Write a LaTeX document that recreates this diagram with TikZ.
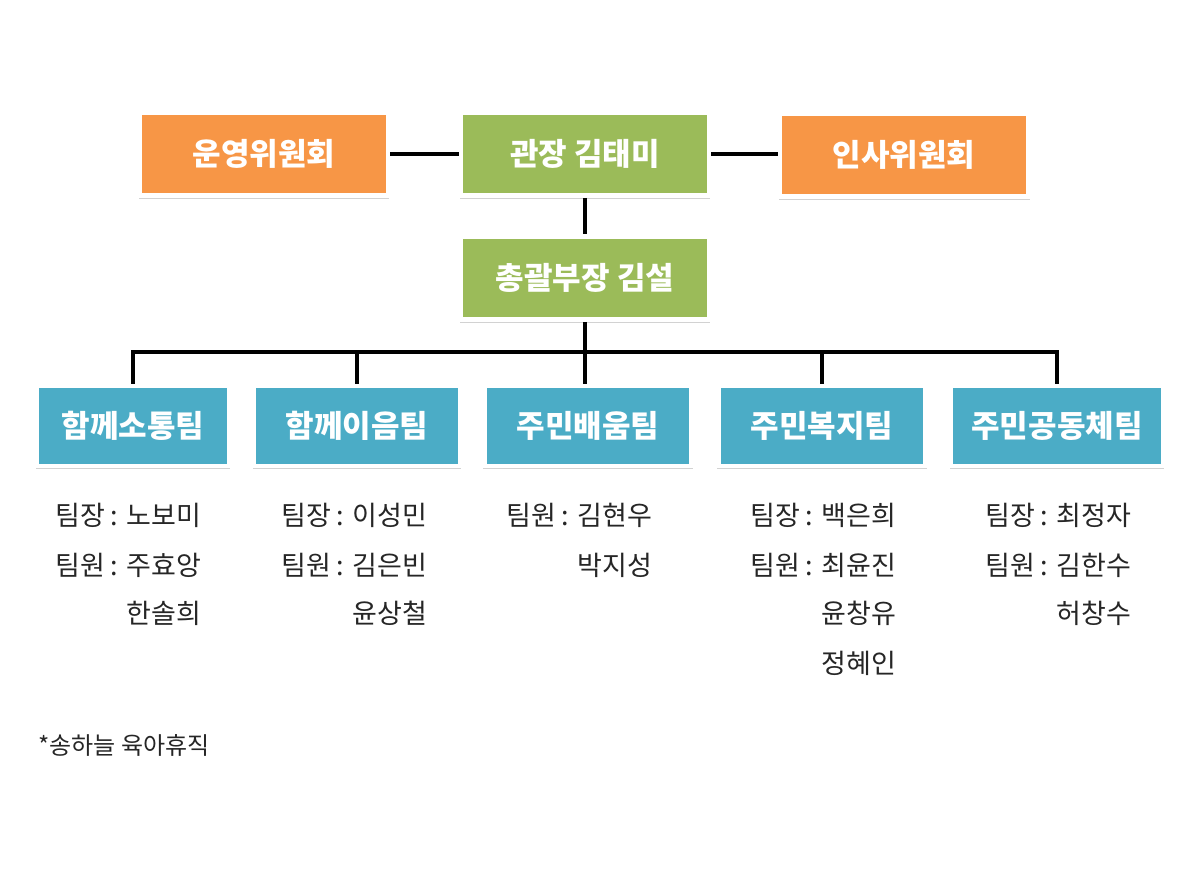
\documentclass[tikz,border=0pt]{standalone}
\usepackage{fontspec}
\newfontfamily\kr{Noto Sans CJK KR}
\usetikzlibrary{shadows}
\definecolor{orng}{HTML}{F79646}
\definecolor{grn}{HTML}{9BBB59}
\definecolor{blu}{HTML}{4BACC6}
\begin{document}
\begin{tikzpicture}[x=1pt,y=-1pt,
  box/.style={draw=white, line width=4.5pt, text=white, inner sep=0pt,
    font=\kr\bfseries\fontsize{31}{34}\selectfont,
    drop shadow={shadow xshift=0pt, shadow yshift=-2.5pt, shadow scale=1.012, opacity=0.35}},
  topbox/.style={box, minimum height=83pt, minimum width=248pt},
  teambox/.style={box, minimum height=80pt},
  conn/.style={line width=4.5pt, black},
  info/.style={anchor=west, inner sep=0pt, font=\kr\fontsize{27}{30}\selectfont, text=black!85}]
\useasboundingbox (0,0) rectangle (1200,868);
\fill[white] (0,0) rectangle (1200,868);

% top row
\node[topbox, fill=orng] (op) at (264,154) {운영위원회};
\node[topbox, fill=grn] (head) at (585,154) {관장 김태미};
\node[topbox, fill=orng] (hr) at (904,155) {인사위원회};
\node[topbox, fill=grn] (gm) at (585,278) {총괄부장 김설};

% teams
\node[teambox, fill=blu, minimum width=192pt] (t1) at (133,426) {함께소통팀};
\node[teambox, fill=blu, minimum width=206pt] (t2) at (357,426) {함께이음팀};
\node[teambox, fill=blu, minimum width=207pt] (t3) at (588,426) {주민배움팀};
\node[teambox, fill=blu, minimum width=207pt] (t4) at (822,426) {주민복지팀};
\node[teambox, fill=blu, minimum width=212pt] (t5) at (1057,426) {주민공동체팀};

% connectors
\coordinate (bus) at (585,352);
\draw[conn] (op.east) -- (head.west);
\draw[conn] (head.east) -- (hr.west |- head.east);
\draw[conn] (head.south) -- (gm.north);
\draw[conn] (gm.south) -- (bus);
\draw[conn] (t1.north) |- (bus) -| (t5.north);
\draw[conn] (t2.north) -- (t2.north |- bus);
\draw[conn] (t3.north -| bus) -- (bus);
\draw[conn] (t4.north) -- (t4.north |- bus);

% team members
\node[info] (a1) at (55,515) {팀장 : 노보미};
\node[info] (a2) at (55,565) {팀원 : 주효앙};
\node[info] (a3) at (55,613) {\phantom{팀원 : }한솔희};

\node[info] (b1) at (281,515) {팀장 : 이성민};
\node[info] (b2) at (281,565) {팀원 : 김은빈};
\node[info] (b3) at (281,613) {\phantom{팀원 : }윤상철};

\node[info] (c1) at (506,515) {팀원 : 김현우};
\node[info] (c2) at (506,565) {\phantom{팀원 : }박지성};

\node[info] (d1) at (750,515) {팀장 : 백은희};
\node[info] (d2) at (750,565) {팀원 : 최윤진};
\node[info] (d3) at (750,613) {\phantom{팀원 : }윤창유};
\node[info] (d4) at (750,663) {\phantom{팀원 : }정혜인};

\node[info] (e1) at (985,515) {팀장 : 최정자};
\node[info] (e2) at (985,565) {팀원 : 김한수};
\node[info] (e3) at (985,613) {\phantom{팀원 : }허창수};

\node[info, font=\kr\fontsize{24}{27}\selectfont] (note) at (38,745) {*송하늘 육아휴직};
\end{tikzpicture}
\end{document}
